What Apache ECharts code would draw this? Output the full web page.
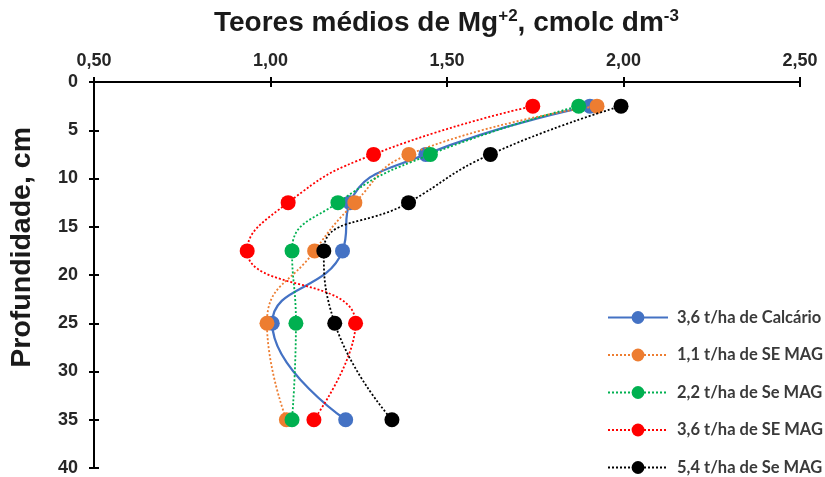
<!DOCTYPE html>
<html>
<head>
<meta charset="utf-8">
<script src="https://cdn.jsdelivr.net/npm/echarts@6/dist/echarts.min.js"></script>
<style>
  html, body { margin: 0; padding: 0; background: #fff; }
  #chart { width: 825px; height: 477px; }
</style>
</head>
<body>
<div id="chart"></div>
<script>
// Depth of each sampling layer (cm)
const depths = [2.5, 7.5, 12.5, 17.5, 25, 35];

// Mean Mg+2 content (cmolc dm-3) per layer, one array per treatment
const calcario36 = [1.905, 1.44, 1.225, 1.204, 1.005, 1.213];
const seMag11 = [1.925, 1.392, 1.239, 1.125, 0.99, 1.045];
const seMag22 = [1.873, 1.453, 1.191, 1.061, 1.072, 1.061];
const seMag36 = [1.743, 1.292, 1.050, 0.934, 1.241, 1.123];
const seMag54 = [1.993, 1.623, 1.391, 1.151, 1.182, 1.344];

const seriesNames = [
  '3,6 t/ha de Calcário',
  '1,1 t/ha de SE MAG',
  '2,2 t/ha de Se MAG',
  '3,6 t/ha de SE MAG',
  '5,4 t/ha de Se MAG'
];
const seriesValues = [calcario36, seMag11, seMag22, seMag36, seMag54];
const seriesColors = ['#4472C4', '#ED7D31', '#00B050', '#FF0000', '#000000'];

const xTicks = { min: 0.5, max: 2.5, interval: 0.5 };
const yTicks = { min: 0, max: 40, interval: 5 };

const chart = echarts.init(document.getElementById('chart'), null, { renderer: 'canvas' });

const labelFont = {
  fontFamily: 'Liberation Sans, Arial, sans-serif',
  fontWeight: 'bold',
  fontSize: 18,
  color: '#262626'
};

const series = seriesNames.map((name, i) => {
  const solid = i === 0;
  return {
    name: name,
    type: 'line',
    xAxisIndex: 0,
    yAxisIndex: 0,
    smooth: 0.5,
    symbol: 'circle',
    symbolSize: 15,
    data: seriesValues[i].map((v, k) => [v, depths[k]]),
    itemStyle: { color: seriesColors[i] },
    lineStyle: solid
      ? { color: seriesColors[i], width: 2.25, type: 'solid' }
      : { color: seriesColors[i], width: 1.8, type: [2, 2] },
    emphasis: { disabled: true },
    z: 3 + i
  };
});

const axisLine = { show: true, lineStyle: { color: '#000', width: 2 } };

chart.setOption({
  animation: false,
  backgroundColor: '#fff',
  title: {
    left: 209,
    top: 2,
    text: '{a|Teores médios de Mg}{s|+2}{a|, cmolc dm}{s|-3}',
    textStyle: {
      rich: {
        a: {
          fontFamily: 'Liberation Sans, Arial, sans-serif',
          fontWeight: 'bold',
          fontSize: 28,
          color: '#1a1a1a',
          lineHeight: 32
        },
        s: {
          fontFamily: 'Liberation Sans, Arial, sans-serif',
          fontWeight: 'bold',
          fontSize: 17,
          color: '#1a1a1a',
          padding: [0, 0, 13, 0]
        }
      }
    }
  },
  graphic: [{
    type: 'text',
    left: 8,
    top: 127,
    rotation: Math.PI / 2,
    style: {
      text: 'Profundidade, cm',
      fontFamily: 'Liberation Sans, Arial, sans-serif',
      fontWeight: 'bold',
      fontSize: 28.5,
      fill: '#1a1a1a'
    }
  }],
  legend: {
    orient: 'vertical',
    left: 607,
    top: 309,
    padding: 0,
    height: 168,
    itemWidth: 60,
    itemHeight: 16,
    itemGap: 20.5,
    textStyle: {
      fontFamily: 'Lato, Liberation Sans, Arial, sans-serif',
      fontWeight: 'bold',
      fontSize: 16.5,
      lineHeight: 16,
      color: '#3a3a3a',
      padding: [0, 0, 0, 4]
    },
    data: seriesNames
  },
  grid: { left: 94, right: 25, top: 82, bottom: 8, containLabel: false },
  xAxis: [{
    type: 'value',
    position: 'top',
    min: xTicks.min,
    max: xTicks.max,
    interval: xTicks.interval,
    axisLine: axisLine,
    axisTick: { show: true, inside: false, length: 5, lineStyle: { color: '#000', width: 2 } },
    axisLabel: {
      ...labelFont,
      margin: 12,
      formatter: v => v.toFixed(2).replace('.', ',')
    },
    splitLine: { show: false }
  }, {
    type: 'value',
    position: 'top',
    min: xTicks.min,
    max: xTicks.max,
    interval: xTicks.interval,
    axisLine: { show: false },
    axisTick: { show: true, inside: true, length: 5, lineStyle: { color: '#000', width: 2 } },
    axisLabel: { show: false },
    splitLine: { show: false }
  }],
  yAxis: [{
    type: 'value',
    inverse: true,
    min: yTicks.min,
    max: yTicks.max,
    interval: yTicks.interval,
    axisLine: axisLine,
    axisTick: { show: true, inside: false, length: 5, lineStyle: { color: '#000', width: 2 } },
    axisLabel: { ...labelFont, margin: 16 },
    splitLine: { show: false }
  }, {
    type: 'value',
    position: 'left',
    inverse: true,
    min: yTicks.min,
    max: yTicks.max,
    interval: yTicks.interval,
    axisLine: { show: false },
    axisTick: { show: true, inside: true, length: 5, lineStyle: { color: '#000', width: 2 } },
    axisLabel: { show: false },
    splitLine: { show: false }
  }],
  series: series
});
</script>
</body>
</html>
